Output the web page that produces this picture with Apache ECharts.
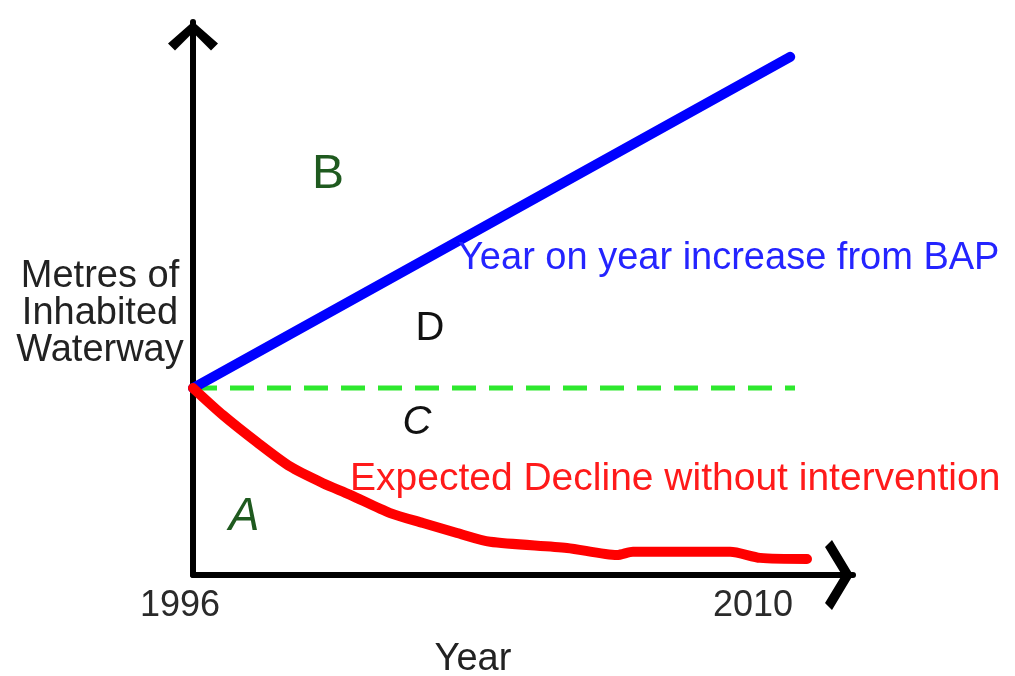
<!DOCTYPE html>
<html style="height: 100%">
<head>
    <meta charset="utf-8">
</head>
<body style="height: 100%; margin: 0; background: #fff">
    <div id="container" style="width: 1015px; height: 676px"></div>
    <script type="text/javascript" src="https://cdn.jsdelivr.net/npm/echarts@6/dist/echarts.min.js"></script>
    <script type="text/javascript">
        // values (x = year, y = metres, arbitrary 0-100 scale)
        var tickYears = [1996, 2010];
        var startLevel = 33.8;

        var increaseYears = [1996, 2010.93];
        var increaseValues = [startLevel, 93.7];

        var baselineYears = [1996, 2011.05];
        var baselineValues = [startLevel, startLevel];

        var declineYears = [1996, 1996.75, 1997.6, 1998.43, 1999.25, 1999.93, 2000.93, 2001.75,
            2002.6, 2003.43, 2005.35, 2006.6, 2007.0, 2009.43, 2010.18, 2011.35];
        var declineValues = [startLevel, 28.9, 24.0, 19.6, 16.6, 14.5, 11.2, 9.4,
            7.6, 6.0, 4.9, 3.6, 4.2, 4.2, 3.1, 2.9];

        function pairs(xs, ys) {
            return xs.map(function (x, i) { return [x, ys[i]]; });
        }

        var font = 'Liberation Sans';
        var darkGreen = '#1f5a1f';

        function note(text, x, y, size, color, extra) {
            var style = {
                text: text,
                fontSize: size,
                fontFamily: font,
                fill: color,
                align: 'center',
                verticalAlign: 'middle'
            };
            for (var k in extra || {}) style[k] = extra[k];
            return { type: 'text', x: x, y: y, z: 10, style: style };
        }

        var myChart = echarts.init(document.getElementById('container'));

        var option = {
            animation: false,
            grid: { left: 193, right: 162, top: 22, bottom: 101 },
            xAxis: {
                type: 'value',
                min: 1996,
                max: 2012.5,
                splitLine: { show: false },
                axisTick: { show: false },
                axisLine: {
                    onZero: false,
                    symbol: ['none', 'path://M0,21 L35,0 L70,21 L63,28 L35,11 L7,28 Z'],
                    symbolSize: [70, 28],
                    symbolOffset: [0, -14],
                    lineStyle: { color: '#000', width: 6, cap: 'round' }
                },
                axisLabel: {
                    customValues: tickYears,
                    margin: 13,
                    formatter: function (v) {
                        return v === tickYears[0] ? '{a|' + v + '}' : '{b|' + v + '}';
                    },
                    rich: {
                        a: { fontSize: 36, fontFamily: font, color: '#2a2a2a', padding: [0, 26, 0, 0] },
                        b: { fontSize: 36, fontFamily: font, color: '#2a2a2a', padding: [0, 0, 0, 0] }
                    }
                }
            },
            yAxis: {
                type: 'value',
                min: 0,
                max: 100,
                splitLine: { show: false },
                axisTick: { show: false },
                axisLabel: { show: false },
                axisLine: {
                    show: true,
                    onZero: false,
                    symbol: ['none', 'path://M0,22 L25,0 L50,22 L43,29 L25,11 L7,29 Z'],
                    symbolSize: [50, 29],
                    symbolOffset: [0, -14],
                    lineStyle: { color: '#000', width: 6, cap: 'round' }
                }
            },
            graphic: [
                note('Metres of\nInhabited\nWaterway', 100, 314, 38, '#222', { lineHeight: 37 }),
                note('Year', 473, 660, 38, '#222'),
                note('B', 328, 175, 48, darkGreen),
                note('D', 430, 329, 40, '#111'),
                note('C', 417, 423, 40, '#111', { fontStyle: 'italic' }),
                note('A', 244, 517, 46, darkGreen, { fontStyle: 'italic' }),
                note('Year on year increase from BAP', 458, 259, 38, '#2424ff', { align: 'left' }),
                note('Expected Decline without intervention', 350, 479, 39, '#ff1a1a', { align: 'left' })
            ],
            series: [{
                type: 'line',
                name: 'baseline',
                data: pairs(baselineYears, baselineValues),
                showSymbol: false,
                silent: true,
                lineStyle: { color: '#2ee82e', width: 5, type: [24, 13] },
                z: 2
            }, {
                type: 'line',
                name: 'increase',
                data: pairs(increaseYears, increaseValues),
                showSymbol: false,
                silent: true,
                lineStyle: { color: '#0000ff', width: 10, cap: 'round' },
                z: 3
            }, {
                type: 'line',
                name: 'decline',
                data: pairs(declineYears, declineValues),
                showSymbol: false,
                silent: true,
                smooth: 0.25,
                lineStyle: { color: '#ff0000', width: 10, cap: 'round', join: 'round' },
                z: 3
            }]
        };

        myChart.setOption(option);
    </script>
</body>
</html>
